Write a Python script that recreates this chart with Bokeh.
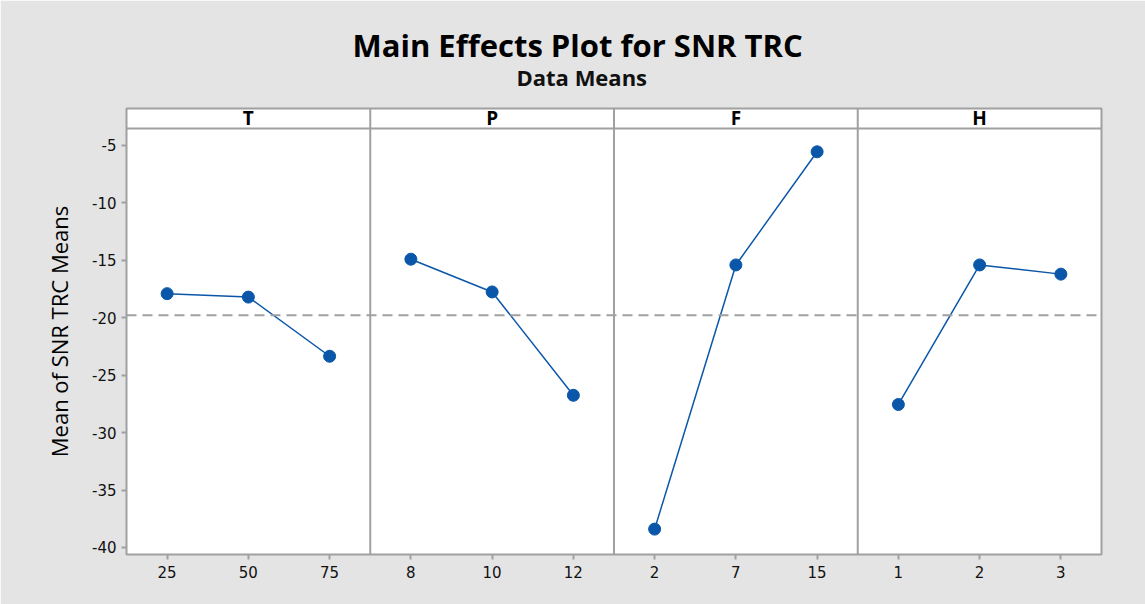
from bokeh.plotting import figure
from bokeh.models import Range1d, FixedTicker, Span, Title
from bokeh.core.properties import value
from bokeh.embed import file_html
from bokeh.resources import INLINE

# ---- data ----
factors = ["T", "P", "F", "H"]
T_levels = ["25", "50", "75"]
P_levels = ["8", "10", "12"]
F_levels = ["2", "7", "15"]
H_levels = ["1", "2", "3"]
T_means = [-17.9, -18.2, -23.35]
P_means = [-14.9, -17.75, -26.75]
F_means = [-38.4, -15.4, -5.55]
H_means = [-27.55, -15.4, -16.2]
y_ticks = [-40, -35, -30, -25, -20, -15, -10, -5]

levels_all = [T_levels, P_levels, F_levels, H_levels]
means_all = [T_means, P_means, F_means, H_means]
all_vals = [v for m in means_all for v in m]
grand_mean = sum(all_vals) / len(all_vals)

# ---- style ----
BG = "#e4e4e4"
GRID = "#a0a0a0"
BLUE = "#0a56a8"
TXT = "#111111"

panel_w = 3.0
plot_top = -3.52
y_min, y_max = -40.61, -1.78

p = figure(width=1145, height=604, output_backend="svg", toolbar_location=None,
           title=None,
           x_range=Range1d(0, panel_w * len(factors)), y_range=Range1d(y_min, y_max),
           min_border_left=126, min_border_right=44, min_border_top=108,
           min_border_bottom=50)
p.border_fill_color = BG
p.background_fill_color = "white"
p.outline_line_color = GRID
p.outline_line_width = 2
p.grid.visible = False

# x axis ticks
xticks = []
overrides = {}
for i, lv in enumerate(levels_all):
    for j, lab in enumerate(lv):
        x = i * panel_w + 0.5 + j
        xticks.append(x)
        overrides[x] = lab
p.xaxis.ticker = FixedTicker(ticks=xticks)
p.xaxis.major_label_overrides = overrides
p.yaxis.ticker = FixedTicker(ticks=y_ticks)
p.yaxis.major_label_overrides = {t: "-%d" % abs(t) for t in y_ticks}

for ax in (p.xaxis[0], p.yaxis[0]):
    ax.axis_line_color = None
    ax.major_tick_line_color = GRID
    ax.major_tick_line_width = 2
    ax.major_tick_in = 0
    ax.major_tick_out = 5
    ax.minor_tick_line_color = None
    ax.major_label_text_font = "DejaVu Sans"
    ax.major_label_text_font_size = "15px"
    ax.major_label_text_color = TXT
p.xaxis.major_label_standoff = 6
p.yaxis.major_label_standoff = 5
p.yaxis.axis_label = "Mean of SNR TRC Means"
p.yaxis.axis_label_text_font = "Open Sans"
p.yaxis.axis_label_text_font_size = "22px"
p.yaxis.axis_label_text_font_style = "normal"
p.yaxis.axis_label_text_color = "black"
p.yaxis.axis_label_standoff = 15

# panel dividers and header band
for i in range(1, len(factors)):
    p.add_layout(Span(location=i * panel_w, dimension="height",
                      line_color=GRID, line_width=2))
p.add_layout(Span(location=plot_top, dimension="width", line_color=GRID, line_width=2))

# reference mean line
p.add_layout(Span(location=grand_mean, dimension="width", line_color=GRID,
                  line_width=2, line_dash="10 6"))

# header letters
p.text(x=[i * panel_w + panel_w / 2 for i in range(len(factors))],
       y=[(plot_top + y_max) / 2] * len(factors), text=factors,
       text_align="center", text_baseline="middle",
       text_font=value("Open Sans"), text_font_size="19px",
       text_font_style="bold", text_color="black")

# effect lines
for i, m in enumerate(means_all):
    xs = [i * panel_w + 0.5 + j for j in range(len(m))]
    p.line(xs, m, line_color=BLUE, line_width=1.5)
    p.scatter(xs, m, size=12, fill_color=BLUE, line_color=BLUE)

# titles: subtitle first (closest to plot), then main title
p.add_layout(Title(text="Data Means", align="left", offset=390,
                   text_font="Open Sans", text_font_size="22px",
                   text_font_style="bold", text_color=TXT, standoff=33), "above")
p.add_layout(Title(text="Main Effects Plot for SNR TRC", align="left", offset=226,
                   text_font="Open Sans", text_font_size="31px",
                   text_font_style="bold", text_color="black", standoff=-44), "above")

open("out.html", "w").write(file_html(p, INLINE))
